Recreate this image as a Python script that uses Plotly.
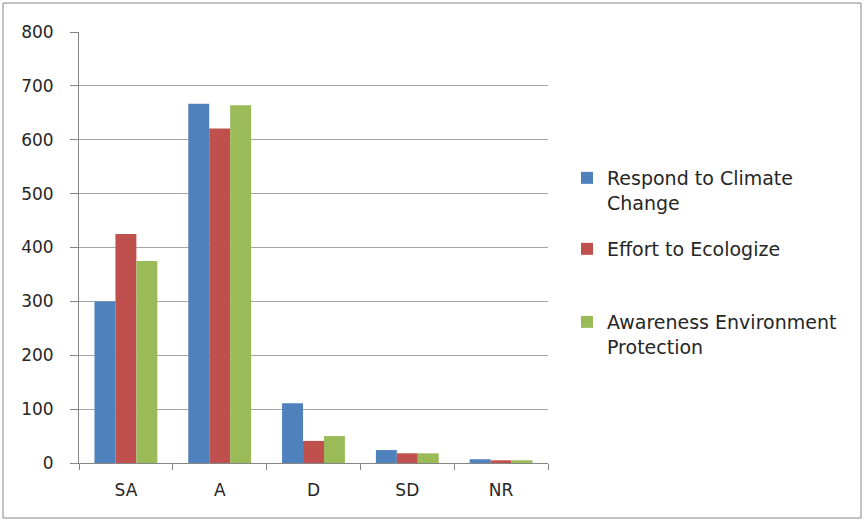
import plotly.graph_objects as go

categories = ["SA", "A", "D", "SD", "NR"]
respond = [300, 667, 111, 24, 7]
effort = [425, 621, 41, 18, 5]
awareness = [375, 664, 50, 18, 5]
series_names = ["Respond to Climate<br>Change", "Effort to Ecologize", "Awareness Environment<br>Protection"]
colors = ["#4F81BD", "#C0504D", "#9BBB59"]
y_ticks = [0, 100, 200, 300, 400, 500, 600, 700, 800]

W, H = 865, 521
L, R, T, B = 79, 548, 32, 463
pw, ph = R - L, B - T

def py(p):
    return (B - p) / ph

def px(p):
    return (p - L) / pw

fig = go.Figure()
legend_ids = ["legend", "legend2", "legend3"]
for vals, name, c, lg in zip([respond, effort, awareness], series_names, colors, legend_ids):
    fig.add_trace(go.Bar(x=categories, y=vals, name=name, marker=dict(color=c, line=dict(width=0)),
                         legend=lg, showlegend=True))

FAM = "DejaVu Sans, sans-serif"
font = dict(family=FAM, size=17, color="#262626")
leg_common = dict(xanchor="left", yanchor="top", bgcolor="rgba(0,0,0,0)",
                  font=dict(family=FAM, size=19, color="#262626"),
                  valign="top", itemwidth=30, tracegroupgap=0, borderwidth=0)
fig.update_layout(
    width=W, height=H,
    margin=dict(l=L, r=W - R, t=T, b=H - B, pad=0),
    paper_bgcolor="white", plot_bgcolor="white",
    barmode="group", bargap=0.33, bargroupgap=0,
    showlegend=True,
    font=font,
    legend=dict(x=px(567), y=py(159), **leg_common),
    legend2=dict(x=px(567), y=py(230), **leg_common),
    legend3=dict(x=px(567), y=py(303), **leg_common),
    xaxis=dict(showline=True, linecolor="#868686", linewidth=1, ticks="outside", ticklen=6, tickcolor="#868686",
               tickson="boundaries", showgrid=False, tickfont=dict(size=17), ticklabelstandoff=12),
    yaxis=dict(range=[0, 800], tickvals=y_ticks, showline=True, linecolor="#868686", linewidth=1,
               ticks="outside", ticklen=8, tickcolor="#868686", gridcolor="#A6A6A6", gridwidth=1,
               showgrid=True, zeroline=False, tickfont=dict(size=17), ticklabelstandoff=13),
    shapes=[dict(type="rect", xref="paper", yref="paper", x0=px(3), x1=px(861), y0=py(518), y1=py(3),
                 line=dict(color="#868686", width=1), fillcolor="rgba(0,0,0,0)", layer="below")],
)
fig.write_html("out.html")
